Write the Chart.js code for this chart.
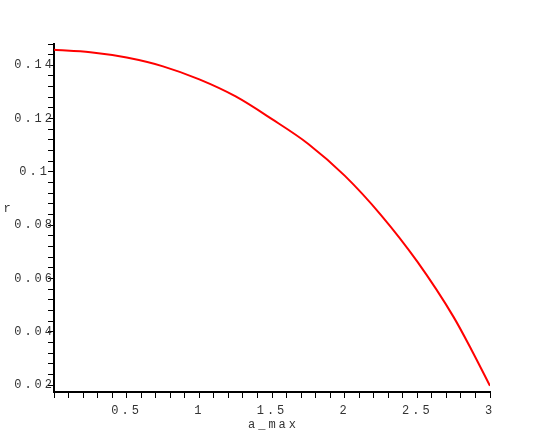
<!DOCTYPE html>
<html>
<head>
<meta charset="utf-8">
<script src="https://cdn.jsdelivr.net/npm/chart.js@4/dist/chart.umd.min.js"></script>
<style>
  html, body { margin: 0; padding: 0; background: #fff; }
  #wrap { width: 545px; height: 436px; position: relative; }
</style>
</head>
<body>
<div id="wrap"><canvas id="c" width="545" height="436"></canvas></div>
<script>
// a_max values and r
const aMax = [0, 0.25, 0.5, 0.75, 1, 1.25, 1.5, 1.75, 2, 2.25, 2.5, 2.75, 2.875, 3];
const rVals = [0.1458, 0.1449, 0.1429, 0.1396, 0.1347, 0.1283, 0.1198, 0.1105, 0.0986, 0.0838, 0.0663, 0.0455, 0.0330, 0.0197];

// tick positions (minor ones get no label)
const xTicks = [];
for (let i = 0; i <= 30; i++) xTicks.push(+(i / 10).toFixed(1));
const xLabels = { 0.5: '0.5', 1: '1', 1.5: '1.5', 2: '2', 2.5: '2.5', 3: '3' };
const yTicks = [];
for (let i = 0; i <= 32; i++) yTicks.push(+(0.02 + i * 0.004).toFixed(3));
const yLabels = { 0.02: '0.02', 0.04: '0.04', 0.06: '0.06', 0.08: '0.08', 0.1: '0.1', 0.12: '0.12', 0.14: '0.14' };

const xTitle = 'a_max';
const yTitle = 'r';

const FONT = { family: '"Liberation Mono", "DejaVu Sans Mono", monospace', size: 12 };
const TEXT = '#333';

const spacing = {
  id: 'spacing',
  beforeUpdate(chart) { chart.ctx.letterSpacing = '3px'; },
  beforeDraw(chart) { chart.ctx.letterSpacing = '3px'; }
};

const titles = {
  id: 'titles',
  afterDraw(chart) {
    const ctx = chart.ctx;
    ctx.save();
    ctx.letterSpacing = '3px';
    ctx.font = '12px ' + FONT.family;
    ctx.fillStyle = TEXT;
    ctx.textAlign = 'center';
    ctx.textBaseline = 'middle';
    const xs = chart.scales.x;
    ctx.fillText(xTitle, (xs.left + xs.right) / 2 + 1.5, 425);
    ctx.fillText(yTitle, 8.5, 209);
    ctx.restore();
  }
};

new Chart(document.getElementById('c'), {
  type: 'line',
  data: {
    datasets: [{
      data: aMax.map((a, i) => ({ x: a, y: rVals[i] })),
      borderColor: '#ff0000',
      borderWidth: 2,
      pointRadius: 0,
      cubicInterpolationMode: 'monotone',
      fill: false
    }]
  },
  options: {
    responsive: false,
    animation: false,
    layout: { padding: { top: 44, right: 55, left: 0, bottom: 0 } },
    plugins: { legend: { display: false }, tooltip: { enabled: false } },
    scales: {
      x: {
        type: 'linear',
        min: 0,
        max: 3,
        afterFit(s) { s.height = 44; },
        afterBuildTicks(s) { s.ticks = xTicks.map(v => ({ value: v })); },
        grid: { drawOnChartArea: false, drawTicks: true, tickLength: 6, color: '#000', lineWidth: 1 },
        border: { color: '#000', width: 2 },
        ticks: {
          autoSkip: false,
          maxRotation: 0,
          padding: 6,
          color: TEXT,
          font: FONT,
          callback: v => xLabels[+v.toFixed(1)] || ''
        }
      },
      y: {
        type: 'linear',
        min: 0.0174,
        max: 0.148,
        afterFit(s) { s.width = 54; },
        afterBuildTicks(s) { s.ticks = yTicks.map(v => ({ value: v })); },
        grid: { drawOnChartArea: false, drawTicks: true, tickLength: 6, color: '#000', lineWidth: 1 },
        border: { color: '#000', width: 2 },
        ticks: {
          autoSkip: false,
          crossAlign: 'center',
          padding: -7,
          color: TEXT,
          font: FONT,
          callback: v => yLabels[+v.toFixed(3)] || ''
        }
      }
    }
  },
  plugins: [spacing, titles]
});
</script>
</body>
</html>
